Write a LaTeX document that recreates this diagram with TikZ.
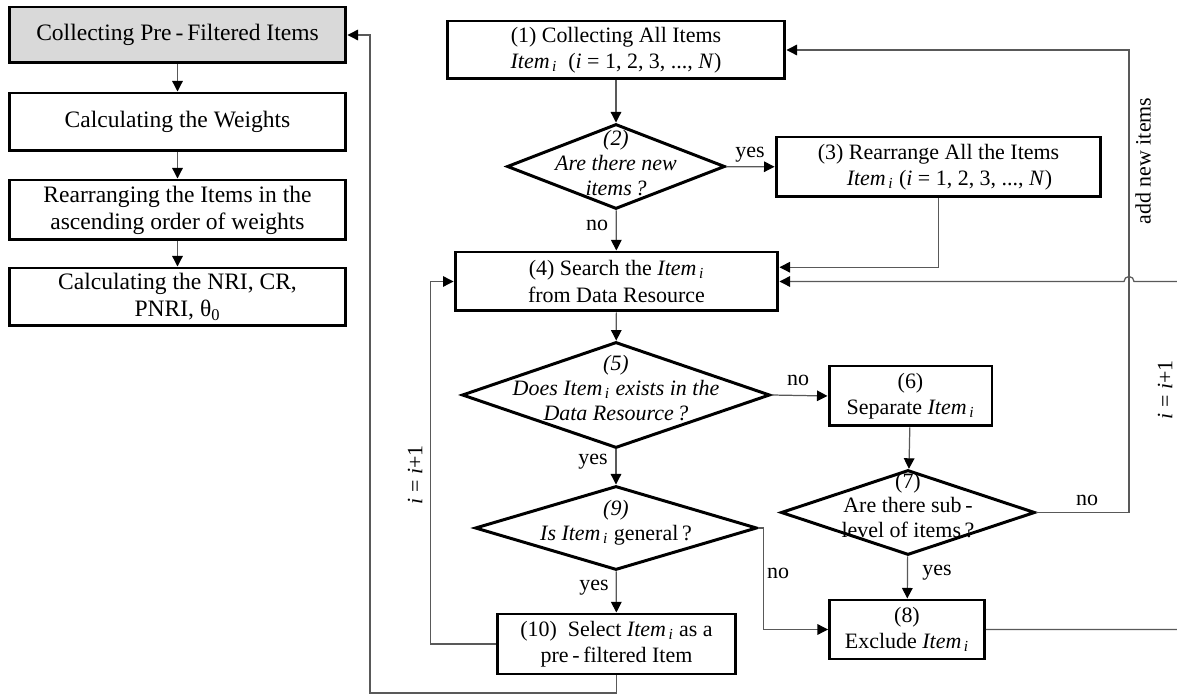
\documentclass[tikz,border=0pt]{standalone}
\usepackage{fontspec}
\setmainfont{Liberation Serif}
\usetikzlibrary{shapes.geometric,arrows.meta}

\newcommand{\Itm}{\textit{Item}\textsubscript{\,\textit{i}}}
\newcommand{\dfont}{\fontsize{12.5}{14}\selectfont}

\tikzset{
  box/.style={draw, line width=1.7pt, align=center, inner sep=2pt},
  prebox/.style={box, minimum width=6.74cm, font=\fontsize{13.4}{15.5}\selectfont},
  decision/.style={diamond, draw, line width=1.7pt, inner sep=0pt},
  dtext/.style={align=center, inner sep=0pt, font=\dfont\itshape},
  dtextup/.style={align=center, inner sep=0pt, font=\dfont},
  line/.style={draw=black!65, line width=0.7pt},
  arrow/.style={line, -{Triangle[length=6pt,width=6pt,color=black]}},
}

\begin{document}
\begin{tikzpicture}[x=0.02cm, y=-0.02cm, font=\fontsize{12.5}{15}\selectfont]
 \clip (0,0) rectangle (1177,695);
 % left column
 \node (l1) [prebox, fill=gray!30, minimum height=1.12cm] at (177.5,35) {Collecting Pre\,-\,Filtered Items};
 \node (l2) [prebox, minimum height=1.16cm] at (177.5,122) {Calculating the Weights};
 \node (l3) [prebox, minimum height=1.2cm] at (177.5,210) {Rearranging the Items in the\\ascending order of weights};
 \node (l4) [prebox, minimum height=1.16cm] at (177.5,297) {Calculating the NRI, CR,\\PNRI,~θ\textsubscript{0}};
 \draw[arrow] (l1) -- (l2);
 \draw[arrow] (l2) -- (l3);
 \draw[arrow] (l3) -- (l4);

 % main flow
 \node (s1) [box, minimum width=6.76cm, minimum height=1.16cm] at (616,50) {(1)~Collecting All Items\\\Itm~~(\textit{i} = 1, 2, 3, ..., \textit{N})};
 \node (s2) [decision, minimum width=4.36cm, minimum height=1.7cm,
   label={[dtext,yshift=2pt]center:{(2)\\Are there new\\items\,?}}] at (616,166.5) {};
 \node (s3) [box, minimum width=6.5cm, minimum height=1.2cm] at (938.5,167) {(3)~Rearrange All the Items\\\hspace*{1em}\Itm~(\textit{i} = 1, 2, 3, ..., \textit{N})};
 \node (s4) [box, minimum width=6.46cm, minimum height=1.18cm] at (616.5,281.5) {(4)~Search the \Itm\\from Data Resource};
 \node (s5) [decision, minimum width=6.16cm, minimum height=2.12cm,
   label={[dtext,yshift=4pt]center:{(5)\\Does \Itm{} exists in the\\Data Resource\,?}}] at (616,395) {};
 \node (s6) [box, minimum width=3.26cm, minimum height=1.2cm] at (910.5,396) {(6)\\Separate \Itm};
 \node (s7) [decision, minimum width=5.08cm, minimum height=1.7cm,
   label={[dtextup,yshift=4pt]center:{(7)\\Are there sub\,-\\level of items\,?}}] at (908,512.5) {};
 \node (s8) [box, minimum width=3.1cm, minimum height=1.18cm] at (907,629.5) {(8)\\Exclude \Itm};
 \node (s9) [decision, minimum width=5.64cm, minimum height=1.68cm,
   label={[dtextup,yshift=3pt]center:{\textit{(9)}\\\textit{Is} \Itm{} general\,?}}] at (616,528) {};
 \node (s10) [box, minimum width=4.78cm, minimum height=1.2cm] at (616.5,644) {(10)~~Select \Itm{} as a\\pre\,-\,filtered Item};

 % yes / no
 \node (y2) at (750,155) {yes};
 \node (n2) at (597,225) {no};
 \node (n5) at (798,380) {no};
 \node (y5) at (593,462) {yes};
 \node (y9) at (594,588) {yes};
 \node (n9) at (778,573) {no};
 \node (n7) at (1087,500) {no};
 \node (y7) at (937,573) {yes};
 \node (addnew) [rotate=90] at (1143,161) {add new items};
 \node (incr) [rotate=90] at (1165,390) {\textit{i} = \textit{i}+1};
 \node (incl) [rotate=90] at (415,475) {\textit{i} = \textit{i}+1};

 \draw[arrow] (s1) -- (s2);
 \draw[arrow] (s2) -- (s3);
 \draw[arrow] (s2) -- (s4);
 \draw[arrow] (s3.south) |- (s4.5);
 \draw[arrow] (s4) -- (s5);
 \draw[arrow] (s5.east) -- (s6.west);
 \draw[arrow] (s5) -- (s9);
 \draw[arrow] (s6) -- (s7);
 \draw[arrow] (s7) -- (s8);
 \draw[arrow] (s9) -- (s10);
 \draw[arrow] (s9.east) -- ++(5,0) |- (s8.west);
 \draw[arrow] (s7.east) -| (1129,50) -- (s1.east);
 \draw[arrow] (s8.east) -- (1185,629.5) -- (1185,281.5) -- (1134,281.5)
   arc[start angle=0, end angle=180, radius=0.1cm] -- (s4.east);
 \draw[arrow] (s10.west) -- ++(-65,0) |- (s4.west);
 \draw[arrow] (s10.south) |- (370,693) |- (l1.east);
\end{tikzpicture}
\end{document}
